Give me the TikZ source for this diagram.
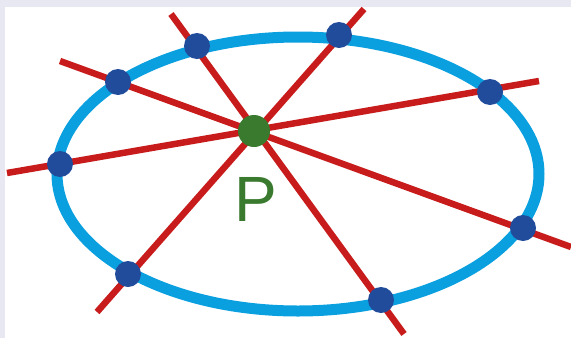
\documentclass[tikz,border=0pt]{standalone}
\usepackage{fontspec}
\setmainfont{Liberation Sans}
\usepackage{tikz}
\usetikzlibrary{calc}
\usepackage{xcolor}
\definecolor{framegray}{RGB}{232,232,242}
\definecolor{ringblue}{RGB}{10,160,224}
\definecolor{dotblue}{RGB}{33,76,156}
\definecolor{linered}{RGB}{200,28,28}
\definecolor{pgreen}{RGB}{58,122,46}

\begin{document}
\begin{tikzpicture}[
  x=1pt, y=-1pt,
  ring/.style={draw=ringblue, line width=11pt},
  chord/.style={draw=linered, line width=6.5pt},
  pt/.style={circle, fill=dotblue, inner sep=0pt, minimum size=26pt},
  centre/.style={circle, fill=pgreen, inner sep=0pt, minimum size=32pt},
  lbl/.style={text=pgreen, font=\fontsize{64}{64}\selectfont, inner sep=0pt},
]
  % frame
  \fill[framegray] (0,0) rectangle (571,338);
  \fill[white] (5,7) rectangle (571,338);
  \useasboundingbox (0,0) rectangle (571,338);

  % the ellipse
  \draw[ring] (298,174) ellipse [x radius=241, y radius=137];

  % free ends of the four lines
  \coordinate (a1) at (171,14);  \coordinate (a2) at (404,334);
  \coordinate (b1) at (60,61);   \coordinate (b2) at (571,247);
  \coordinate (c1) at (364,9);   \coordinate (c2) at (97,312);
  \coordinate (d1) at (7,173);   \coordinate (d2) at (539,81);

  \draw[chord] (a1) -- (a2);
  \draw[chord] (b1) -- (b2);
  \draw[chord] (c1) -- (c2);
  \draw[chord] (d1) -- (d2);

  % points on the ellipse
  \node[pt] (q1) at (197,46) {};
  \node[pt] (q2) at (339,35) {};
  \node[pt] (q3) at (118,82) {};
  \node[pt] (q4) at (490,92) {};
  \node[pt] (q5) at (60,164) {};
  \node[pt] (q6) at (523,228) {};
  \node[pt] (q7) at (128,274) {};
  \node[pt] (q8) at (381,300) {};

  \node[centre] (p) at (254,131) {};
  \node[lbl] (plbl) at (256,199) {P};
\end{tikzpicture}
\end{document}
